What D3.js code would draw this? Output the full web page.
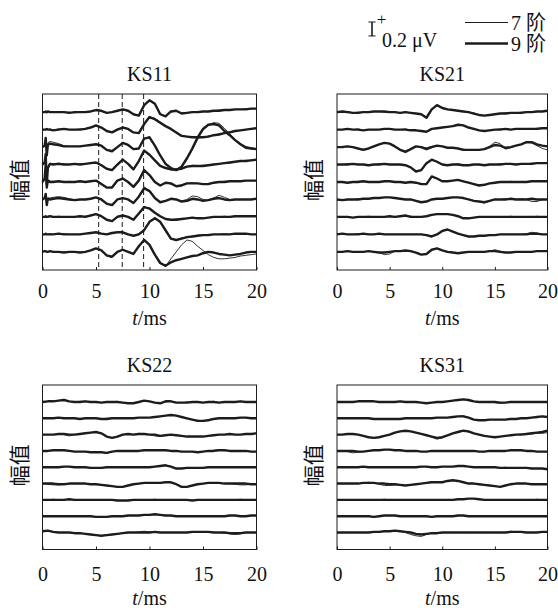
<!DOCTYPE html>
<html>
<head>
<meta charset="utf-8">
<script src="https://cdn.jsdelivr.net/npm/d3@7"></script>
<style>
body { margin: 0; background: #fff; }
svg { display: block; }
text { font-family: "Liberation Serif", "Times New Roman", "DejaVu Serif", "Noto Sans CJK SC", serif; fill: #111; }
</style>
</head>
<body>
<svg width="558" height="611"></svg>
<script>
// **** Data (amplitudes in 0.01 μV, one array per trace, top trace first) ****

// KS11 has extra samples round the stimulus artefact
var ks11Time = [0, 0.2, 0.3, 0.4, 0.5, 0.7, 1, 1.5, 2, 2.5, 3, 3.5, 4, 4.5, 5, 5.5, 6, 6.5, 7, 7.5, 8, 8.5, 9, 9.5, 10,
    10.5, 11, 11.5, 12, 12.5, 13, 13.5, 14, 14.5, 15, 15.5, 16, 16.5, 17, 17.5, 18, 18.5, 19, 19.5, 20];
var gridTime = d3.range(0, 20.25, 0.5);

var xTicks = [0, 5, 10, 15, 20];
var waveMarks = [5.25, 7.45, 9.45];   // dashed lines in KS11, ms
var scaleBar = 20;                     // 0.2 μV
var traceOffsets = [226, 201, 176, 151, 126, 101, 76, 51, 26];
var legendLabels = ['7 阶', '9 阶'];

var ks11_9 = [
    [0,0,1,0,1,0, 0,0,0,-1,0,0,0,1,3,2, -1,0,2,4,2,-3,-5,10,17,12, -3,-6,1,2,-2,-1,0,0,1,1, 2,2,3,3,4,4,4,5,5],
    [0,0,0,1,0,0, -1,0,1,0,0,0,1,3,6,3, -2,-4,0,3,1,-4,-5,8,18,15, 10,5,1,-4,-9,-10,-11,-11,-11,-10, -8,-7,-5,-4,-2,-1,0,1,2],
    [0,2,13,-12,3,5, 4,3,1,1,1,1,2,3,4,2, -4,-6,0,6,3,-3,-2,12,14,2, -12,-24,-30,-33,-28,-16,-2,14,26,32, 33,31,23,17,10,4,-1,-2,-3],
    [0,3,15,-28,-5,1, 0,1,0,0,1,0,1,2,3,-1, -6,-8,0,7,1,-7,5,20,14,6, -2,-5,-7,-7,-6,-3,-2,-2,-2,-1, 0,1,2,3,4,5,5,6,7],
    [0,5,25,-8,2,0, 0,1,0,0,0,1,0,1,2,-3, -8,-8,2,5,0,-7,2,17,10,0, -5,-1,-2,-6,-5,-2,-2,-2,-3,-3, -1,0,0,1,1,1,2,2,2],
    [0,2,8,-8,1,0, 1,2,1,0,-1,0,0,1,3,0, -6,-8,0,2,0,-5,4,16,12,2, -4,-2,1,0,-3,-2,1,0,-2,-1, 1,2,0,-1,0,0,0,0,1],
    [0,0,1,0,0,1, 0,0,0,0,0,1,0,2,4,1, -4,-6,0,2,0,-4,5,14,12,6, 1,-3,-4,-4,-3,-2,-1,-2,-2,-1, 0,0,0,0,1,1,1,1,1],
    [0,0,1,0,0,0, 0,1,0,0,0,0,1,2,3,1, 0,2,3,3,0,-2,0,6,18,23, 18,6,-6,-8,-6,-4,-3,-2,-1,-1, 0,0,0,0,1,1,1,0,0],
    [0,1,1,0,0,1, 0,0,-1,0,0,-1,0,2,5,2, -5,-7,0,3,0,-3,8,17,10,-4, -16,-20,-15,-12,-10,-8,-6,-5,-2,0, -1,-3,-4,-5,-4,-3,-1,0,0]
];
var ks11_7 = [
    [0,0,1,0,0,1, 1,0,0,0,-1,0,1,1,3,2, -1,0,2,3,2,-3,-5,9,17,13, -2,-6,0,2,-1,-1,0,1,1,1, 2,3,3,3,4,4,5,5,5],
    [0,0,0,1,0,1, -1,1,1,0,0,1,1,3,5,3, -2,-4,1,3,1,-4,-5,7,18,16, 11,5,0,-4,-8,-10,-11,-12,-11,-9, -8,-6,-5,-3,-2,-1,0,1,2],
    [0,2,12,-10,6,8, 7,5,2,1,1,1,2,3,4,2, -4,-5,0,6,3,-3,-2,12,15,2, -12,-23,-30,-33,-29,-18,-4,11,24,31, 35,34,27,19,11,5,1,-1,-2],
    [0,3,14,-26,-3,2, 1,2,1,0,1,1,1,2,3,-1, -6,-8,1,7,1,-7,4,19,15,6, -2,-4,-7,-8,-6,-3,-1,-2,-1,-1, 0,1,2,2,4,5,6,6,7],
    [0,5,24,-6,3,1, 1,1,0,1,0,1,0,1,2,-3, -8,-7,2,5,0,-7,3,18,10,1, -5,-1,-3,-6,-4,-2,-1,-2,-3,-2, -1,0,1,1,1,2,2,2,2],
    [0,2,7,-6,2,2, 3,4,3,1,-1,0,0,1,3,0, -7,-8,0,2,0,-5,5,18,12,2, -4,-2,1,0,-2,0,5,4,0,-1, 2,6,3,0,0,0,0,0,1],
    [0,0,1,0,1,1, 0,1,0,0,0,1,1,2,4,1, -4,-6,1,2,0,-4,5,14,13,6, 1,-3,-4,-3,-3,-2,-1,-1,-2,-1, 0,0,1,0,1,1,1,2,1],
    [0,0,1,0,0,1, 0,1,1,0,0,0,1,2,3,1, 0,2,3,3,0,-2,1,7,18,24, 17,4,-7,-8,-5,-4,-3,-1,-1,0, 0,0,1,0,1,1,0,0,0],
    [0,1,1,0,0,1, 0,0,-1,0,0,-1,0,2,5,2, -6,-8,0,3,0,-3,8,18,9,-5, -17,-21,-10,0,10,17,15,8,2,-4, -8,-10,-10,-9,-8,-6,-5,-4,-3]
];

var ks21_9 = [
    [0,1,0,-1,-1,0,0,1,1,1, 0,0,-1,0,-1,-2,-3,-8,4,10, 6,4,3,2,1,0,-2,-4,-5,-4, -3,-2,-2,-1,-1,-1,0,0,1,1,2],
    [0,0,1,0,0,-1,0,0,0,1, 1,0,0,0,-1,-1,-2,-3,1,2, 3,4,5,7,6,3,1,-1,-2,-1, 0,0,1,0,1,1,1,1,1,2,2],
    [0,0,1,0,-2,-4,-2,1,4,6, 5,1,-4,-7,-3,1,0,-3,0,2, 1,-1,-1,-2,-4,-4,-4,-4,-3,0, 3,2,-1,0,2,4,7,7,4,2,1],
    [0,0,0,1,0,0,-1,0,0,1, 0,0,0,-1,-4,-10,-8,2,7,4, 0,-1,0,0,-1,-1,0,0,-1,0, 0,0,1,1,0,1,1,1,2,2,2],
    [0,0,-1,0,0,1,0,0,0,1, 1,0,0,-1,0,-1,-3,-3,8,5, 1,1,2,3,1,-1,-3,-5,-4,-2, -1,0,0,0,0,0,0,1,1,1,1],
    [0,-1,0,0,0,1,1,2,2,3, 3,2,1,0,0,-2,-4,-3,0,1, 1,2,3,3,2,0,-2,-3,-4,-2, 0,0,0,1,0,0,0,1,0,0,0],
    [0,0,0,-1,0,0,0,0,0,0, 1,0,1,2,0,0,0,1,3,4, 4,4,3,1,-2,-2,-1,0,0,0, 0,0,0,0,0,0,0,0,0,0,0],
    [0,1,0,0,0,1,0,0,1,0, 0,0,0,0,0,0,0,-1,-3,0, 5,7,4,1,-1,-3,-3,-2,-2,-1, -1,0,0,0,0,0,0,1,1,0,0],
    [0,0,1,0,0,0,1,0,-1,-1, 0,1,1,2,1,-1,-4,-3,3,5, 2,0,-1,-2,-1,0,0,0,0,1, 1,0,-1,-1,0,0,0,0,1,1,1]
];
var ks21_7 = [
    [0,1,1,-1,0,0,0,1,1,0, 0,0,-1,0,-1,-2,-3,-7,3,10, 7,4,3,2,1,0,-1,-4,-5,-4, -3,-2,-1,-1,-1,0,0,0,1,1,2],
    [0,0,1,0,1,-1,0,0,0,1, 1,0,0,1,-1,-1,-2,-3,1,2, 3,4,5,6,6,3,1,-1,-2,-1, 0,1,1,0,1,1,1,1,2,2,2],
    [0,1,1,0,-2,-3,-2,1,4,6, 5,1,-4,-5,-3,1,0,-1,1,2, 1,-1,-1,-2,-3,-4,-4,-4,-3,1, 7,5,-3,-1,2,4,7,6,2,-2,-4],
    [0,0,1,1,0,0,-1,0,1,1, 0,0,0,-1,-4,-9,-9,1,7,4, 0,-1,0,1,-1,-1,0,0,-1,0, 0,1,1,1,0,1,1,2,2,2,2],
    [0,0,-1,0,1,1,0,0,0,1, 1,0,0,-1,0,-1,-2,-3,7,5, 1,1,2,3,1,-1,-3,-4,-4,-2, -1,0,0,1,0,0,0,1,1,1,1],
    [0,-1,0,0,1,1,1,2,2,3, 3,2,1,0,0,-2,-4,-3,0,1, 1,2,3,3,2,0,-2,-3,-5,-2, 0,0,1,1,0,1,0,-3,-3,0,0],
    [0,0,0,-1,0,0,1,0,0,0, 1,0,1,2,1,0,0,1,3,4, 4,4,3,1,-2,-2,-1,0,0,0, 0,0,0,1,0,0,0,0,1,0,0],
    [0,1,0,0,1,1,0,0,1,0, 0,0,0,0,0,0,0,-1,-3,0, 4,7,4,1,-1,-3,-3,-2,-2,-1, -1,0,0,0,0,0,1,3,2,0,0],
    [0,0,1,0,0,0,1,0,-1,-4, -3,1,1,2,1,-1,-4,-3,3,5, 2,0,-1,-2,-1,0,0,0,0,1, 3,1,-1,-1,0,0,0,0,1,1,1]
];

var ks22_9 = [
    [0,1,1,2,3,1,0,0,1,0, 0,-1,0,0,0,-1,-2,-2,0,2, 1,-1,-2,1,1,-1,-1,-1,0,0, -1,0,0,-1,0,0,0,1,0,0,0],
    [0,0,0,1,0,0,0,-1,0,0, 0,-1,-1,0,0,0,0,0,1,1, 1,2,3,4,5,4,2,0,-2,-4, -4,-3,-1,0,0,0,0,1,1,0,0],
    [0,0,0,1,1,0,0,1,2,3, 4,2,-3,-5,-3,0,1,0,1,1, 0,0,-2,-1,0,-1,-2,-3,-3,-3, -3,-2,-1,0,0,1,0,0,1,1,2],
    [0,0,1,1,1,0,-1,-1,-1,-2, -2,-2,-3,-1,0,0,0,0,0,1, 1,1,1,1,0,0,-1,-1,-1,-2, -1,0,0,1,1,0,0,0,0,-1,-1],
    [0,0,0,0,1,1,0,0,0,-1, -1,-1,0,0,0,0,0,0,0,0, 0,1,2,3,1,-2,-2,-1,-1,-1, -1,0,0,0,0,0,0,0,0,0,0],
    [0,0,0,-1,-1,0,0,0,0,-1, -1,-2,-3,-4,-5,-5,-3,-1,0,1, 1,1,1,2,2,-1,-5,-5,-3,-1, 0,1,1,1,0,0,0,0,0,-1,-1],
    [0,0,0,0,0,1,0,0,0,0, 0,0,0,0,-1,-1,-1,0,0,0, 0,0,0,0,0,0,0,0,-1,0, 0,0,0,0,0,0,0,0,0,0,0],
    [0,0,0,0,0,0,0,0,0,0, -1,-1,-1,0,0,0,1,1,1,2, 2,3,2,1,1,0,0,0,0,0, 0,0,0,0,0,1,1,0,0,1,1],
    [2,3,1,0,0,0,-1,-1,-2,-3, -4,-5,-4,-3,-2,-1,0,0,0,0, 0,1,0,0,0,0,0,0,1,1, 1,1,0,0,0,-1,-1,-1,0,0,0]
];
var ks22_7 = [
    [0,1,1,2,4,1,0,1,1,0, 0,-1,0,0,1,-1,-2,-2,0,2, 1,-1,-2,0,1,-1,-1,0,0,0, -1,0,1,-1,0,0,0,1,0,0,0],
    [0,0,1,1,0,0,0,-1,0,0, 0,-1,0,0,0,0,0,0,1,1, 1,2,3,4,5,4,2,0,-2,-3, -4,-2,-1,0,0,0,0,1,1,0,0],
    [0,0,0,1,0,-2,0,1,2,3, 4,2,-3,-5,-3,0,1,0,2,1, 0,-2,-3,-1,0,-1,-2,-3,-3,-3, -3,-2,-1,0,0,1,0,0,1,1,2],
    [0,0,1,1,1,0,-1,-1,-1,-2, -2,-2,-4,-1,0,0,0,0,0,1, 1,1,1,1,0,0,-1,-1,-1,-2, -1,0,1,2,1,0,0,0,0,-1,-1],
    [0,0,0,1,1,1,0,0,0,-1, -1,-1,0,0,0,0,0,1,0,0, 0,1,2,3,1,-2,-2,-1,-1,-1, -1,0,0,0,0,0,0,0,0,0,0],
    [0,-1,-2,-2,-1,0,0,0,0,-1, -1,-2,-3,-4,-5,-5,-3,-1,0,1, 1,1,1,2,2,-1,-5,-5,-3,-1, 0,1,1,1,0,0,-1,-2,-2,-1,-1],
    [0,0,1,0,0,1,0,0,0,0, 0,0,0,0,-1,-1,-1,0,0,0, 0,1,0,0,0,0,0,0,-1,0, 0,0,0,0,0,0,0,1,0,0,0],
    [0,0,0,0,0,0,0,1,0,0, -1,-1,-1,0,0,0,1,1,1,2, 2,3,2,1,1,0,0,0,0,0, 0,0,0,1,0,1,1,0,0,1,1],
    [3,3,1,0,0,0,-1,-1,-2,-3, -4,-5,-4,-3,-2,-1,0,0,1,2, 1,1,0,0,0,0,0,0,1,1, 1,1,0,0,-1,-2,-3,-2,0,0,0]
];

var ks31_9 = [
    [0,0,0,0,1,1,1,1,0,0, 0,0,1,0,0,0,-1,-2,-1,0, 0,1,2,3,4,3,1,0,0,0, 0,-1,-1,0,0,0,0,0,0,0,0],
    [0,0,0,0,0,0,0,-1,-1,-1, -1,-1,-1,0,0,0,0,0,0,1, 1,1,2,3,3,1,-2,-3,-3,-2, -2,-2,-2,-1,-1,0,0,1,2,3,2],
    [0,0,1,1,0,-2,-4,-5,-4,-2, 0,3,5,6,5,3,1,-1,-3,-5, -4,-1,2,4,6,5,2,0,-2,-3, -4,-3,-2,-1,0,0,1,2,3,4,6],
    [0,0,0,0,-1,-1,0,1,1,2, 2,1,1,0,0,0,-1,-1,0,0, 0,0,0,0,0,0,0,-1,-1,0, 0,0,0,1,1,1,0,0,-1,-1,-1],
    [0,0,0,0,0,1,0,0,0,0, 0,0,0,0,0,0,1,1,0,0, 1,1,1,2,2,1,0,0,0,0, 0,-1,-1,-1,-1,-1,-1,-2,-2,-2,-3],
    [0,0,0,0,0,1,1,1,0,0, -1,-1,-2,-3,-2,-1,0,1,2,2, 2,4,5,4,2,0,0,-1,-2,-3, -4,-5,-3,-1,0,0,0,-1,-1,-1,-1],
    [0,0,0,0,0,0,0,0,0,0, 0,0,0,0,0,0,0,0,0,0, 0,0,0,1,1,2,2,1,0,0, 0,0,0,0,0,0,0,0,0,0,0],
    [0,0,0,0,0,0,0,-1,0,1, 1,1,0,0,0,0,0,0,-1,0, 0,0,0,1,1,0,0,0,0,0, 0,0,0,0,0,0,0,0,0,0,0],
    [0,0,0,0,0,0,0,1,1,2, 2,3,2,1,0,-2,-3,-2,-1,-1, 0,0,0,0,0,0,0,0,0,0, 0,0,0,1,1,1,0,0,0,1,1]
];
var ks31_7 = [
    [0,0,0,0,1,1,1,1,0,0, 0,0,1,0,0,0,-1,-2,-1,0, 0,1,2,3,4,2,1,0,0,0, -1,-2,-1,0,0,0,0,0,0,0,0],
    [0,0,1,0,0,0,0,-1,-1,-1, -1,-1,-1,0,0,0,0,0,0,1, 1,1,2,3,4,1,-2,-3,-3,-2, -2,-2,-2,-1,-1,0,0,1,2,3,2],
    [0,0,1,1,0,-2,-4,-5,-4,-2, 0,3,5,6,5,3,1,-1,-4,-7, -5,-1,2,5,6,4,2,0,-2,-3, -4,-3,-2,-1,0,1,1,1,2,2,3],
    [0,0,-1,-3,-2,-1,0,1,1,2, 2,1,1,0,0,0,-1,-1,0,0, 0,0,0,0,0,0,0,-1,-1,0, 0,0,0,1,1,1,0,0,-1,-1,-1],
    [0,0,0,0,0,1,0,0,1,0, 0,0,0,0,0,0,1,1,0,0, 1,1,1,2,2,1,0,0,0,0, 0,-1,0,-1,-1,-1,-1,-2,-2,-2,-3],
    [0,0,0,0,0,1,2,1,-1,-3, -3,-2,-2,-3,-2,-1,0,1,3,3, 2,4,5,4,2,0,0,-1,-2,-3, -4,-5,-3,-1,0,0,0,-1,-1,-1,-1],
    [0,0,0,0,0,0,0,0,0,1, 0,0,0,0,0,0,0,0,0,0, 0,0,0,1,1,2,2,1,0,0, 0,0,0,0,0,0,0,0,1,0,0],
    [0,0,0,0,0,0,0,-1,0,1, 1,1,0,0,0,0,0,0,-1,0, 0,0,0,1,1,0,0,0,0,0, 0,0,0,0,0,0,1,0,0,0,0],
    [0,0,0,0,0,0,0,1,1,2, 3,3,2,0,-3,-5,-6,-3,-1,-1, 0,0,0,0,0,0,0,0,0,0, 0,0,0,2,1,1,0,0,0,1,1]
];

// **** Layout ****

var panels = [
    {title: 'KS11', time: ks11Time, o7: ks11_7, o9: ks11_9, marks: waveMarks, left: 42.5, right: 256.5, top: 94, bottom: 270, pad: 14},
    {title: 'KS21', time: gridTime, o7: ks21_7, o9: ks21_9, marks: [], left: 337, right: 547.5, top: 94, bottom: 270, pad: 14},
    {title: 'KS22', time: gridTime, o7: ks22_7, o9: ks22_9, marks: [], left: 42.5, right: 256.5, top: 385, bottom: 549.5, pad: 17},
    {title: 'KS31', time: gridTime, o7: ks31_7, o9: ks31_9, marks: [], left: 337, right: 547.5, top: 385, bottom: 549.5, pad: 17}
];

var ink = '#1c1c1c';
var serif = '"Liberation Serif", "Times New Roman", "DejaVu Serif", "Noto Sans CJK SC", serif';
var svg = d3.select('svg');

panels.forEach(function(p) {
    var x = d3.scaleLinear().domain([0, 20]).range([p.left, p.right]);
    var y = d3.scaleLinear().domain([0, 252]).range([p.bottom, p.top]);
    var g = svg.append('g');

    // traces: 7th order thin, 9th order thick on top
    traceOffsets.forEach(function(off, i) {
        var line = d3.line()
            .x(function(d, j) { return x(p.time[j]); })
            .y(function(d) { return y(off + d); });
        g.append('path').attr('d', line(p.o7[i]))
            .attr('fill', 'none').attr('stroke', ink).attr('stroke-width', 0.9)
            .attr('stroke-linejoin', 'round');
        g.append('path').attr('d', line(p.o9[i]))
            .attr('fill', 'none').attr('stroke', ink).attr('stroke-width', 2.4)
            .attr('stroke-linejoin', 'round');
    });

    // dashed wave markers
    g.selectAll('line.mark').data(p.marks).enter().append('line')
        .attr('class', 'mark')
        .attr('x1', function(d) { return x(d); }).attr('x2', function(d) { return x(d); })
        .attr('y1', p.top).attr('y2', p.bottom)
        .attr('stroke', ink).attr('stroke-width', 1).attr('stroke-dasharray', '5,3');

    // frame
    g.append('rect')
        .attr('x', p.left).attr('y', p.top)
        .attr('width', p.right - p.left).attr('height', p.bottom - p.top)
        .attr('fill', 'none').attr('stroke', ink).attr('stroke-width', 1);

    // x axis, ticks pointing inward
    var ax = g.append('g')
        .attr('transform', 'translate(0,' + p.bottom + ')')
        .call(d3.axisBottom(x).tickValues(xTicks).tickSize(-3).tickPadding(p.pad));
    ax.attr('font-family', null).attr('font-size', null);
    ax.select('.domain').remove();
    ax.selectAll('line').attr('stroke', ink);
    ax.selectAll('text').style('font-size', '20px')
        .style('font-family', serif).attr('fill', '#111');

    // title
    g.append('text')
        .attr('x', (p.left + p.right) / 2).attr('y', p.top - 13)
        .style('text-anchor', 'middle').style('font-size', '20px').style('font-family', serif)
        .text(p.title);

    // x label
    var xl = g.append('text')
        .attr('x', (p.left + p.right) / 2).attr('y', p.bottom + 55)
        .style('text-anchor', 'middle').style('font-size', '20px').style('font-family', serif);
    xl.append('tspan').style('font-style', 'italic').text('t');
    xl.append('tspan').text('/ms');

    // y label
    g.append('text')
        .attr('transform', 'translate(' + (p.left - 23) + ',' + ((p.top + p.bottom) / 2 - 2) + ') rotate(-90)')
        .style('text-anchor', 'middle').attr('dominant-baseline', 'central')
        .style('font-size', '21px').style('font-family', serif)
        .text('幅值');
});

// **** Legend: scale bar and line styles ****

var yTop = d3.scaleLinear().domain([0, 252]).range([270, 94]);
var barH = yTop(0) - yTop(scaleBar);
var leg = svg.append('g').style('font-family', serif);

leg.append('line').attr('x1', 372).attr('x2', 372).attr('y1', 22).attr('y2', 22 + barH)
    .attr('stroke', ink).attr('stroke-width', 1.6);
[22, 22 + barH].forEach(function(yy) {
    leg.append('line').attr('x1', 368.5).attr('x2', 375.5).attr('y1', yy).attr('y2', yy)
        .attr('stroke', ink).attr('stroke-width', 1);
});
leg.append('text').attr('x', 381.5).attr('y', 25).style('text-anchor', 'middle')
    .style('font-size', '17px').style('font-family', serif).text('+');
leg.append('text').attr('x', 382).attr('y', 47).style('font-size', '20px')
    .style('font-family', serif).text('0.2 μV');

legendLabels.forEach(function(lab, i) {
    var ly = i === 0 ? 22.5 : 43.5;
    leg.append('line').attr('x1', 465).attr('x2', 508).attr('y1', ly).attr('y2', ly)
        .attr('stroke', ink).attr('stroke-width', i === 0 ? 1 : 2.6);
    leg.append('text').attr('x', 511).attr('y', ly + 7).style('font-size', '20px')
        .style('font-family', serif).text(lab);
});
</script>
</body>
</html>
